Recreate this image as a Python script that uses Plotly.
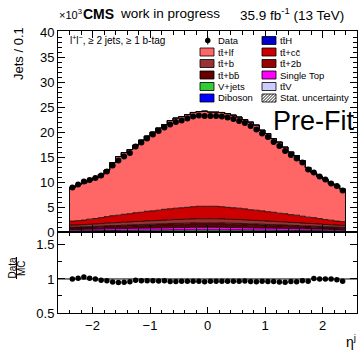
import numpy as np
import plotly.graph_objects as go

# ---------------- data (values in thousands of jets) ----------------
eta_low, eta_width, n_bins = -2.4, 0.1, 48

data_jets = [8.9, 9.5, 10.1, 10.4, 10.8, 11.3, 12.1, 13.3, 14.3, 15.1,
             15.8, 17.1, 17.9, 18.7, 19.5, 20.2, 20.9, 21.5, 22.0, 22.3,
             22.7, 23.1, 23.3, 23.2, 23.2, 23.2, 23.1, 22.9, 22.6, 22.2,
             21.8, 21.2, 20.5, 19.7, 19.0, 18.0, 17.2, 16.2, 15.4, 14.7,
             13.9, 12.5, 11.9, 11.1, 10.5, 9.7, 9.2, 8.3]

tt_lf = [6.7, 7.1, 7.4, 7.7, 8.1, 8.6, 9.3, 10.6, 11.7, 12.3,
         12.8, 13.5, 14.4, 15.0, 15.7, 16.4, 16.9, 17.6, 18.0, 18.2,
         18.5, 18.8, 18.9, 19.0, 18.8, 18.8, 18.8, 18.7, 18.5, 18.2,
         17.8, 17.5, 17.0, 16.1, 15.6, 14.7, 14.2, 13.3, 12.5, 11.9,
         11.1, 9.9, 8.9, 8.4, 8.0, 7.3, 7.1, 6.5]

tt_cc = [0.80, 0.86, 0.91, 1.03, 1.08, 1.20, 1.31, 1.42, 1.48, 1.59,
         1.65, 1.76, 1.82, 1.93, 1.99, 2.05, 2.16, 2.22, 2.27, 2.33,
         2.39, 2.44, 2.50, 2.50, 2.50, 2.50, 2.44, 2.39, 2.33, 2.27,
         2.22, 2.10, 2.05, 1.99, 1.88, 1.82, 1.71, 1.65, 1.54, 1.48,
         1.37, 1.25, 1.20, 1.08, 0.97, 0.91, 0.80, 0.74]

tt_b = [0.42, 0.43, 0.45, 0.47, 0.49, 0.51, 0.54, 0.56, 0.58, 0.60,
        0.62, 0.64, 0.65, 0.68, 0.69, 0.71, 0.73, 0.74, 0.76, 0.77,
        0.78, 0.80, 0.81, 0.81, 0.81, 0.81, 0.80, 0.78, 0.77, 0.76,
        0.74, 0.72, 0.71, 0.69, 0.67, 0.65, 0.63, 0.62, 0.59, 0.58,
        0.55, 0.53, 0.51, 0.49, 0.46, 0.45, 0.42, 0.41]

tt_2b = [0.15, 0.16, 0.16, 0.17, 0.18, 0.19, 0.20, 0.21, 0.21, 0.22,
         0.23, 0.24, 0.24, 0.25, 0.25, 0.26, 0.27, 0.27, 0.28, 0.28,
         0.29, 0.29, 0.30, 0.30, 0.30, 0.30, 0.29, 0.29, 0.28, 0.28,
         0.27, 0.26, 0.26, 0.25, 0.24, 0.24, 0.23, 0.23, 0.22, 0.21,
         0.20, 0.19, 0.19, 0.18, 0.17, 0.16, 0.15, 0.15]

tt_bb = [0.31, 0.32, 0.33, 0.35, 0.36, 0.37, 0.39, 0.41, 0.42, 0.44,
         0.45, 0.47, 0.48, 0.50, 0.51, 0.52, 0.54, 0.55, 0.56, 0.57,
         0.57, 0.59, 0.59, 0.59, 0.59, 0.59, 0.59, 0.57, 0.57, 0.56,
         0.55, 0.53, 0.52, 0.51, 0.49, 0.48, 0.46, 0.45, 0.43, 0.42,
         0.40, 0.39, 0.37, 0.36, 0.34, 0.33, 0.31, 0.30]

single_top = [0.27, 0.27, 0.28, 0.30, 0.31, 0.32, 0.34, 0.36, 0.36, 0.38,
              0.39, 0.41, 0.41, 0.43, 0.44, 0.45, 0.46, 0.47, 0.48, 0.49,
              0.50, 0.51, 0.51, 0.51, 0.51, 0.51, 0.51, 0.50, 0.49, 0.48,
              0.47, 0.46, 0.45, 0.44, 0.42, 0.41, 0.40, 0.39, 0.37, 0.36,
              0.35, 0.33, 0.32, 0.31, 0.29, 0.28, 0.27, 0.26]

v_jets = [0.16, 0.16, 0.17, 0.17, 0.18, 0.19, 0.20, 0.20, 0.21, 0.22,
          0.22, 0.23, 0.24, 0.25, 0.25, 0.26, 0.26, 0.27, 0.28, 0.28,
          0.28, 0.29, 0.30, 0.29, 0.30, 0.29, 0.29, 0.28, 0.28, 0.28,
          0.27, 0.26, 0.26, 0.25, 0.25, 0.24, 0.23, 0.22, 0.22, 0.21,
          0.20, 0.19, 0.19, 0.18, 0.17, 0.16, 0.16, 0.15]

tt_v = [0.06, 0.06, 0.06, 0.06, 0.07, 0.07, 0.07, 0.08, 0.08, 0.08,
        0.08, 0.09, 0.09, 0.09, 0.09, 0.09, 0.10, 0.10, 0.10, 0.10,
        0.10, 0.11, 0.11, 0.11, 0.11, 0.11, 0.11, 0.10, 0.10, 0.10,
        0.10, 0.10, 0.09, 0.09, 0.09, 0.09, 0.08, 0.08, 0.08, 0.08,
        0.07, 0.07, 0.07, 0.06, 0.06, 0.06, 0.06, 0.05]

diboson = [0.01, 0.01, 0.02, 0.02, 0.02, 0.02, 0.02, 0.02, 0.02, 0.02,
           0.02, 0.02, 0.02, 0.02, 0.02, 0.02, 0.02, 0.03, 0.03, 0.03,
           0.03, 0.03, 0.03, 0.03, 0.03, 0.03, 0.03, 0.03, 0.03, 0.03,
           0.02, 0.02, 0.02, 0.02, 0.02, 0.02, 0.02, 0.02, 0.02, 0.02,
           0.02, 0.02, 0.02, 0.02, 0.02, 0.01, 0.01, 0.01]

tt_h = [0.03, 0.03, 0.03, 0.03, 0.03, 0.03, 0.04, 0.04, 0.04, 0.04,
        0.04, 0.04, 0.04, 0.05, 0.05, 0.05, 0.05, 0.05, 0.05, 0.05,
        0.05, 0.05, 0.05, 0.05, 0.05, 0.05, 0.05, 0.05, 0.05, 0.05,
        0.05, 0.05, 0.05, 0.05, 0.04, 0.04, 0.04, 0.04, 0.04, 0.04,
        0.04, 0.04, 0.03, 0.03, 0.03, 0.03, 0.03, 0.03]

TT = "tt\u0304"
# stacking order bottom -> top
stack = [
    ("Diboson", diboson, "#0000ff"),
    (TT + "V", tt_v, "#ccccff"),
    ("V+jets", v_jets, "#33cc33"),
    ("Single Top", single_top, "#ff00ff"),
    (TT + "+bb\u0304", tt_bb, "#660000"),
    (TT + "+2b", tt_2b, "#990000"),
    (TT + "+b", tt_b, "#993333"),
    (TT + "+cc\u0304", tt_cc, "#cc0000"),
    (TT + "+lf", tt_lf, "#ff6666"),
    (TT + "H", tt_h, "#0000cc"),
]

edges = [round(eta_low + eta_width * i, 2) for i in range(n_bins + 1)]
centers = [round(e + eta_width / 2, 3) for e in edges[:-1]]

fig = go.Figure()

for name, vals, col in stack:
    fig.add_trace(go.Scatter(
        x=edges, y=list(vals) + [vals[-1]], mode="lines", name=name,
        line=dict(shape="hv", color="black", width=0.8),
        fillcolor=col, stackgroup="mc", xaxis="x", yaxis="y",
        hoverinfo="skip"))

total = np.sum([np.array(v) for _, v, _ in stack], axis=0)
# outline of the full stack including the outer vertical edges
fig.add_trace(go.Scatter(
    x=[edges[0]] + edges + [edges[-1]],
    y=[0.0] + list(total) + [total[-1], 0.0],
    mode="lines", line=dict(shape="hv", color="black", width=1),
    xaxis="x", yaxis="y", hoverinfo="skip"))

fig.add_trace(go.Scatter(
    x=centers, y=data_jets, mode="markers",
    marker=dict(color="black", size=6), xaxis="x", yaxis="y"))

ratio = np.array(data_jets) / total
fig.add_trace(go.Scatter(
    x=centers, y=ratio, mode="markers",
    marker=dict(color="black", size=5.5), xaxis="x2", yaxis="y2"))

# ---------------- layout ----------------
FONT = "Liberation Sans, Arial, sans-serif"
L, R, T, B = 58, 3, 31, 39
W, H = 360, 352
PW, PH = W - L - R, H - T - B
split = (313 - 232) / PH


def X(px):
    return (px - L) / PW


def Y(py):
    return (H - B - py) / PH


axis_common = dict(showline=True, linecolor="black", linewidth=1, mirror="ticks",
                   ticks="inside", tickcolor="black", showgrid=False, zeroline=False,
                   tickfont=dict(family=FONT, size=13, color="black"))

fig.update_layout(
    width=W, height=H, margin=dict(l=L, r=R, t=T, b=B),
    paper_bgcolor="white", plot_bgcolor="white", showlegend=False,
    font=dict(family=FONT, color="black"),
    xaxis=dict(**axis_common, domain=[0, 1], range=[-2.6, 2.6], anchor="y",
               matches="x2", showticklabels=False, dtick=1, tick0=0, ticklen=7,
               minor=dict(ticks="inside", dtick=0.2, ticklen=4, tickcolor="black")),
    yaxis=dict(**axis_common, domain=[split, 1], range=[0, 40.2], anchor="x",
               dtick=5, tick0=0, ticklen=7,
               minor=dict(ticks="inside", dtick=1, ticklen=4, tickcolor="black")),
    xaxis2=dict(**axis_common, domain=[0, 1], range=[-2.6, 2.6], anchor="y2",
                dtick=1, tick0=0, ticklen=6,
                minor=dict(ticks="inside", dtick=0.2, ticklen=3.5, tickcolor="black")),
    yaxis2=dict(**axis_common, domain=[0, split], range=[0.5, 1.69], anchor="x2",
                tickvals=[0.5, 1, 1.5], ticktext=["0.5", "1", "1.5"], ticklen=7,
                minor=dict(ticks="inside", dtick=0.25, ticklen=4, tickcolor="black")),
)

shapes = []
ann = []

# unity line in ratio
shapes.append(dict(type="line", xref="x2 domain", yref="y2", x0=0, x1=1, y0=1, y1=1,
                   line=dict(color="black", width=1)))


def text(px, py, s, size, xanchor="left", angle=0):
    ann.append(dict(x=X(px), y=Y(py), xref="paper", yref="paper", text=s,
                    showarrow=False, xanchor=xanchor, yanchor="middle",
                    textangle=angle,
                    font=dict(family=FONT, size=size, color="black")))


# header
text(57, 14, "\u00d710<sup>3</sup>", 11)
text(81, 14, "<b>CMS</b>", 14)
text(118, 14, "work in progress", 13.5)
text(346, 14, "35.9 fb<sup>-1</sup> (13 TeV)", 13.5, xanchor="right")

# axis titles
text(19, 54, "Jets / 0.1", 13, xanchor="center", angle=-90)
text(11.5, 268, "Data", 10, xanchor="center", angle=-90)
text(21, 268, "MC", 10, xanchor="center", angle=-90)
shapes.append(dict(type="line", xref="paper", yref="paper", x0=X(16.5), x1=X(16.5),
                   y0=Y(257), y1=Y(279), line=dict(color="black", width=1)))
text(358, 341, "\u03b7<sup>j</sup>", 14, xanchor="right")

# category label and Pre-Fit
text(68, 40, "l<sup>+</sup>l<sup>\u2212</sup>, \u2265 2 jets, \u2265 1 b-tag", 10)
text(271, 121, "Pre-Fit", 27)

# custom two-column legend
colors = {n: c for n, _, c in stack}
rows = [40.5, 52, 63.5, 75, 86.5, 98]
col1 = ["Data", TT + "+lf", TT + "+b", TT + "+bb\u0304", "V+jets", "Diboson"]
col2 = [TT + "H", TT + "+cc\u0304", TT + "+2b", "Single Top", TT + "V", "Stat. uncertainty"]


def box(x0, py, fill):
    shapes.append(dict(type="rect", xref="paper", yref="paper",
                       x0=X(x0), x1=X(x0 + 14), y0=Y(py + 4), y1=Y(py - 4),
                       fillcolor=fill, line=dict(color="black", width=0.8)))


for py, name in zip(rows, col1):
    if name == "Data":
        shapes.append(dict(type="circle", xref="paper", yref="paper",
                           x0=X(205), x1=X(210.5), y0=Y(py + 2.75), y1=Y(py - 2.75),
                           fillcolor="black", line=dict(color="black", width=0)))
        shapes.append(dict(type="line", xref="paper", yref="paper",
                           x0=X(207.75), x1=X(207.75), y0=Y(py + 4), y1=Y(py - 4),
                           line=dict(color="black", width=1)))
    else:
        box(200, py, colors[name])
    text(216, py, name, 9.5)

for py, name in zip(rows, col2):
    if name == "Stat. uncertainty":
        bx0, bx1, by0, by1 = 262, 276, py - 4, py + 4
        box(262, py, "white")
        segs = []
        for c in np.arange(bx0 + by0 + 2.5, bx1 + by1, 3.0):
            xa = max(bx0, c - by1)
            xb = min(bx1, c - by0)
            if xb <= xa:
                continue
            segs.append(f"M {X(xa):.5f} {Y(c - xa):.5f} L {X(xb):.5f} {Y(c - xb):.5f}")
        shapes.append(dict(type="path", xref="paper", yref="paper", path=" ".join(segs),
                           line=dict(color="black", width=0.9)))
    else:
        box(262, py, colors[name])
    text(278, py, name, 9.5)

fig.update_layout(shapes=shapes, annotations=ann)
fig.write_html("out.html",
               config={"displayModeBar": False},
               post_script="document.body.style.margin='0px';"
                           "document.body.style.overflow='hidden';")
